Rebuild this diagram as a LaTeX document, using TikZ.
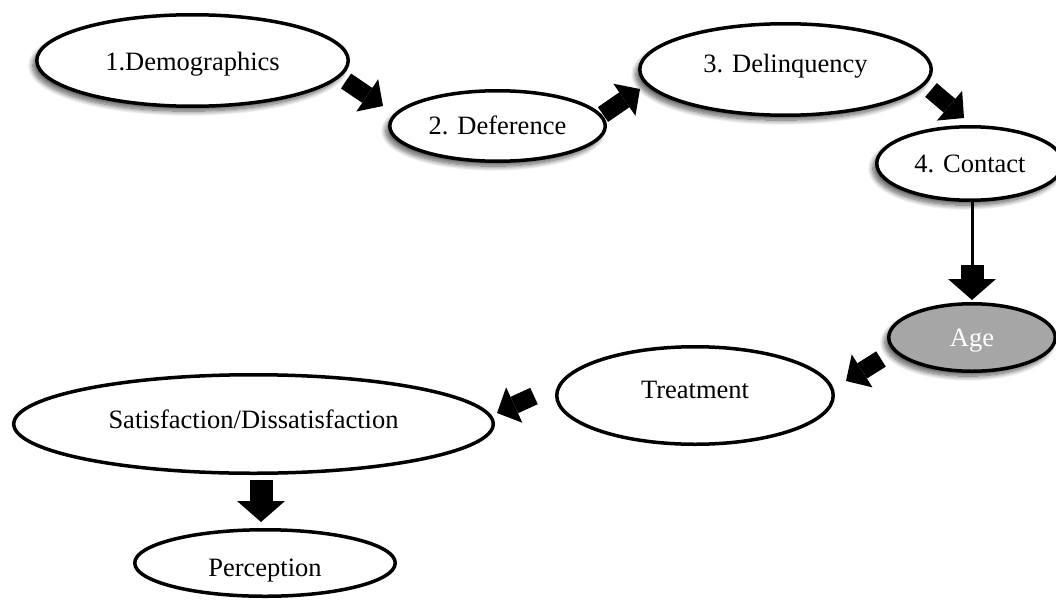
\documentclass[tikz,border=0pt]{standalone}
\usepackage{fontspec}
\setmainfont{Liberation Serif}
\usetikzlibrary{shapes.geometric,arrows.meta,shadows.blur}

\tikzset{
  oval/.style={ellipse, draw=black, line width=3.5pt, fill=white, inner sep=0pt,
    font=\fontsize{26.5}{30}\selectfont, text height=17.5pt, text depth=0pt},
  softshadow/.style={blur shadow={shadow xshift=-4pt, shadow yshift=-5pt,
    shadow blur radius=5pt, shadow blur steps=12, shadow opacity=65}},
  greyoval/.style={oval, fill=agegrey, text=white},
  blockarrow/.style={line width=18pt, -{Triangle[length=19pt,width=39pt,line width=0pt]}},
  bigarrow/.style={line width=23pt, -{Triangle[length=21pt,width=48pt,line width=0pt]}},
  stem/.style={line width=3pt},
}
\definecolor{agegrey}{HTML}{A6A6A6}

\begin{document}
\begin{tikzpicture}[x=1pt,y=-1pt]
  \useasboundingbox (0,0) rectangle (1056,602);

  % stages of the model
  \node[oval, softshadow, minimum width=311.5pt, minimum height=91.5pt] (demo) at (192.5,60.5) {\raisebox{-1pt}{1.Demographics}};
  \node[oval, softshadow, minimum width=215.5pt, minimum height=70.5pt] (defer) at (497.5,126) {2. Deference};
  \node[oval, softshadow, minimum width=291.5pt, minimum height=91.5pt] (delin) at (785.5,69.5) {\raisebox{6pt}{3. Delinquency}};
  \node[oval, softshadow, minimum width=186.5pt, minimum height=73.5pt] (contact) at (970,163.5) {4. Contact};
  \node[greyoval, softshadow, minimum width=166.5pt, minimum height=67.5pt] (age) at (972,337.5) {Age};
  \node[oval, minimum width=276.5pt, minimum height=97.5pt] (treat) at (695,395.5) {\raisebox{5.5pt}{Treatment}};
  \node[oval, minimum width=479.5pt, minimum height=98.5pt] (sat) at (253.5,424) {\raisebox{4.5pt}{Satisfaction/Dissatisfaction}};
  \node[oval, minimum width=260.5pt, minimum height=66.5pt] (perc) at (265,563) {\raisebox{-5pt}{Perception}};

  % ends of the block arrows between the ovals
  \coordinate (t12) at (346,81);   \coordinate (h12) at (383,106);
  \coordinate (t23) at (603,114.5);\coordinate (h23) at (640,89);
  \coordinate (t34) at (931,90);   \coordinate (h34) at (964,118);
  \coordinate (tca) at (972,265);  \coordinate (hca) at (972,300);
  \coordinate (tat) at (881,359);  \coordinate (hat) at (846,381);
  \coordinate (tts) at (534,396);  \coordinate (hts) at (497,413);
  \coordinate (tsp) at (261,480);  \coordinate (hsp) at (261,522);

  % connectors
  \draw[blockarrow] (t12) -- (h12);
  \draw[blockarrow] (t23) -- (h23);
  \draw[blockarrow] (t34) -- (h34);
  \draw[stem] (contact.south -| tca) -- (tca);
  \draw[bigarrow] (tca) -- (hca);
  \draw[blockarrow] (tat) -- (hat);
  \draw[blockarrow] (tts) -- (hts);
  \draw[bigarrow] (tsp) -- (hsp);
\end{tikzpicture}
\end{document}
